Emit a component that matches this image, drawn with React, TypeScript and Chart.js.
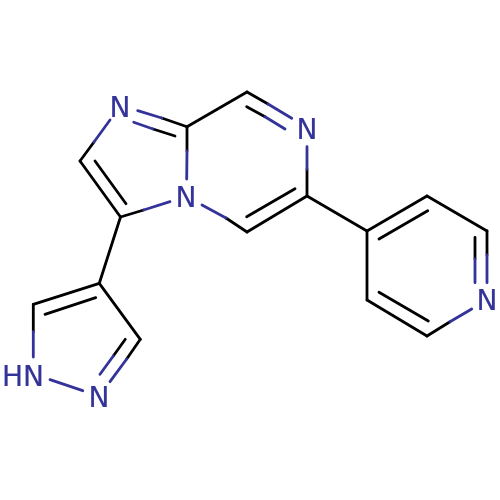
import React, { useEffect, useRef } from "react";
import { Chart, registerables } from "chart.js";

Chart.register(...registerables);

// Each bond piece: [x1, y1, x2, y2] in the picture's 0-500 value space.
const blackBonds: number[][] = [
  [94, 142, 80, 161],
  [80, 161, 120.5, 217],
  [95, 161, 126, 203.7],
  [120.5, 217, 143.7, 210],
  [187, 151, 187, 126.7],
  [187, 126.7, 161.7, 118],
  [175, 136, 153, 129],
  [226, 218, 247, 232],
  [187, 126.7, 247, 92],
  [247, 92, 268, 104],
  [246.7, 106.7, 265, 116.7],
  [307, 169.3, 307, 196],
  [307, 196, 247, 232],
  [295, 188.7, 246.7, 216.7],
  [307, 196, 367, 231],
  [367, 231, 427, 196],
  [379, 239, 427.7, 210.7],
  [427, 196, 487, 231],
  [487, 231, 487, 255],
  [475, 237.3, 475, 259],
  [450, 321.7, 427, 336],
  [427, 336, 367, 300],
  [428.3, 321, 379, 292.3],
  [367, 300, 367, 231],
  [120.5, 217, 99.3, 283.3],
  [99.3, 283.3, 33.3, 304.3],
  [95.7, 297.7, 45, 314.3],
  [33.3, 304.3, 33.3, 331.7],
  [126.7, 359, 140.3, 339.3],
  [113.3, 356, 125.3, 339.3],
  [99.3, 283.3, 140.3, 339.3],
];

const blueBonds: number[][] = [
  [110, 120, 94, 142],
  [143.7, 210, 170, 201.7],
  [186.7, 179, 187, 151],
  [161.7, 118, 137.7, 110.7],
  [153, 129, 133.7, 122.3],
  [202, 205, 226, 218],
  [268, 104, 291.7, 118.3],
  [265, 116.7, 285, 129],
  [307, 146.7, 307, 169.3],
  [487, 255, 487, 282.7],
  [475, 259, 475, 282.7],
  [471.7, 309, 450, 321.7],
  [33.3, 331.7, 33.3, 357],
  [50, 379.7, 82.7, 390.7],
  [110, 381.7, 126.7, 359],
  [100, 374.3, 113.3, 356],
];

const atomText: string[] = ["N", "N", "N", "N", "HN", "N"];
const atomX: number[] = [120, 186, 307, 487, 23, 99];
const atomY: number[] = [108, 198, 130, 301, 377, 398];

const BLACK = "#000000";
const BLUE = "#333399";

const atomPlugin = {
  id: "atomLabels",
  afterDatasetsDraw(chart: any) {
    const { ctx, scales } = chart;
    ctx.save();
    ctx.fillStyle = BLUE;
    ctx.strokeStyle = BLUE;
    ctx.lineWidth = 0.2;
    ctx.font = '28px "DejaVu Sans"';
    ctx.textAlign = "center";
    ctx.textBaseline = "middle";
    atomText.forEach((t, i) => {
      const x = scales.x.getPixelForValue(atomX[i]);
      const y = scales.y.getPixelForValue(atomY[i]) + 2;
      ctx.fillText(t, x, y);
      ctx.strokeText(t, x, y);
    });
    ctx.restore();
  },
};

function toDataset(b: number[], color: string) {
  return {
    data: [
      { x: b[0], y: b[1] },
      { x: b[2], y: b[3] },
    ],
    showLine: true,
    borderColor: color,
    borderWidth: 2.8,
    borderCapStyle: "round" as const,
    pointRadius: 0,
    pointHoverRadius: 0,
    tension: 0,
    fill: false,
  };
}

export default function App() {
  const ref = useRef<HTMLCanvasElement>(null);
  useEffect(() => {
    const chart = new Chart(ref.current!, {
      type: "scatter",
      data: {
        datasets: [
          ...blueBonds.map((b) => toDataset(b, BLUE)),
          ...blackBonds.map((b) => toDataset(b, BLACK)),
        ],
      },
      options: {
        responsive: false,
        animation: false,
        layout: { padding: 0 },
        plugins: { legend: { display: false }, tooltip: { enabled: false }, title: { display: false } },
        scales: {
          x: { type: "linear", min: 0, max: 500, display: false },
          y: { type: "linear", min: 0, max: 500, reverse: true, display: false },
        },
      },
      plugins: [atomPlugin],
    });
    return () => chart.destroy();
  }, []);
  return (
    <div style={{ position: "fixed", left: 0, top: 0, width: 500, height: 500, background: "#fff" }}>
      <canvas ref={ref} width={500} height={500} style={{ display: "block" }} />
    </div>
  );
}
